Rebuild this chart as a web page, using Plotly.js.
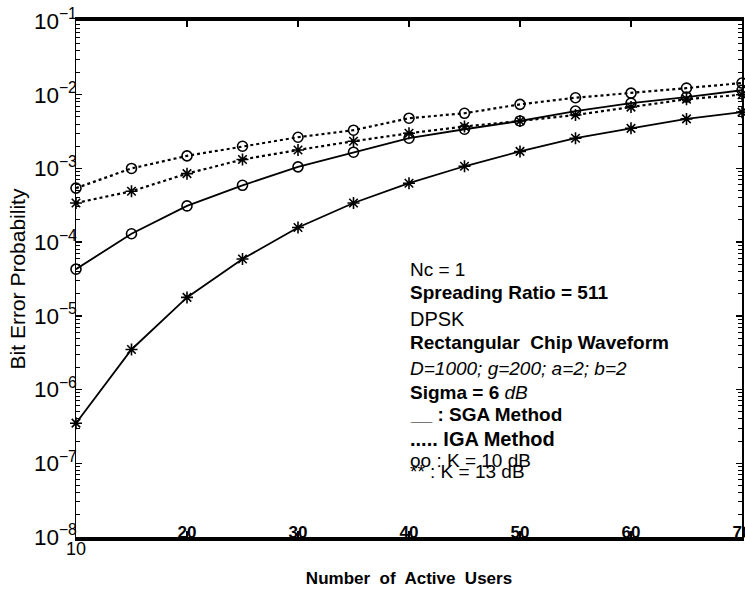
<!DOCTYPE html>
<html>
<head>
<meta charset="utf-8">
<script src="https://cdn.plot.ly/plotly-3.0.1.min.js"></script>
<style>
html,body{margin:0;padding:0;background:#fff;}
#chart{width:745px;height:592px;}
</style>
</head>
<body>
<div id="chart"></div>
<script>
// Number of active users
const users = [10, 15, 20, 25, 30, 35, 40, 45, 50, 55, 60, 65, 70];

// SGA method (solid)
const sgaK10 = [4.3e-5, 1.3e-4, 3.1e-4, 5.9e-4, 1.05e-3, 1.66e-3, 2.57e-3, 3.4e-3, 4.4e-3, 6.0e-3, 7.7e-3, 9.3e-3, 1.15e-2];
const sgaK13 = [3.5e-7, 3.5e-6, 1.78e-5, 5.9e-5, 1.58e-4, 3.4e-4, 6.3e-4, 1.07e-3, 1.7e-3, 2.57e-3, 3.5e-3, 4.7e-3, 5.8e-3];

// IGA method (dotted)
const igaK10 = [5.4e-4, 1.0e-3, 1.48e-3, 2.0e-3, 2.65e-3, 3.3e-3, 4.8e-3, 5.6e-3, 7.4e-3, 9.1e-3, 1.05e-2, 1.23e-2, 1.44e-2];
const igaK13 = [3.4e-4, 4.9e-4, 8.5e-4, 1.32e-3, 1.78e-3, 2.34e-3, 3.0e-3, 3.7e-3, 4.4e-3, 5.3e-3, 6.8e-3, 8.7e-3, 1.0e-2];

// Axis ticks
const xTickVals = [20, 30, 40, 50, 60, 70];
const xTickText = ["20", "30", "40", "50", "60", "70"];
const xFirstTick = "10";

const legendLines = [
  {text: "Nc = 1", y: 269, size: 19},
  {text: "<b>Spreading Ratio = 511</b>", y: 292, size: 19},
  {text: "DPSK", y: 319, size: 20},
  {text: "<b>Rectangular  Chip Waveform</b>", y: 342, size: 19},
  {text: "<i>D=1000; g=200; a=2; b=2</i>", y: 368, size: 19},
  {text: "<b>Sigma = 6</b> <i>dB</i>", y: 392, size: 19},
  {text: "<b>__ : SGA Method</b>", y: 414, size: 19},
  {text: "<b>..... IGA Method</b>", y: 439, size: 20},
  {text: "oo : K = 10 dB", y: 460, size: 19},
  {text: "** : K = 13 dB", y: 471, size: 19}
];

const font = "Liberation Sans, Arial, Helvetica, sans-serif";
const black = "#000";

function mk(y, dash, symbol, width) {
  return {
    x: users, y: y, type: "scatter", mode: "lines+markers",
    line: {color: black, width: width, dash: dash},
    marker: {symbol: symbol, size: 10, color: black, line: {color: black, width: 1.6}},
    showlegend: false, cliponaxis: false
  };
}

const traces = [
  mk(igaK10, "dot", "circle-open", 2.2),
  mk(igaK13, "dot", "asterisk-open", 2.2),
  mk(sgaK10, "solid", "circle-open", 1.8),
  mk(sgaK13, "solid", "asterisk-open", 1.8)
];

const H = 592, T = 21, B = 55;
function py(pix) { return 1 - (pix - T) / (H - T - B); }

const annotations = legendLines.map(l => ({
  text: l.text, xref: "paper", yref: "paper",
  x: (408 - 76) / (745 - 76 - 3), y: py(l.y),
  xanchor: "left", yanchor: "middle", showarrow: false,
  font: {family: font, size: l.size, color: black}
}));
annotations.push({
  text: xFirstTick, xref: "x", yref: "paper", x: 10, y: py(549),
  xanchor: "center", yanchor: "middle", showarrow: false,
  font: {family: font, size: 18, color: black}
});

const layout = {
  width: 745, height: 592,
  margin: {l: 76, r: 3, t: T, b: B},
  paper_bgcolor: "#fff", plot_bgcolor: "#fff",
  font: {family: font, color: black},
  showlegend: false,
  xaxis: {
    range: [10, 70], tickvals: xTickVals, ticktext: xTickText,
    ticks: "inside", ticklen: 6, tickcolor: black, tickwidth: 1.5,
    showline: true, linecolor: black, linewidth: 4, mirror: "ticks",
    showgrid: false, zeroline: false,
    ticklabelstandoff: -23, ticklabeloverflow: "allow",
    tickfont: {family: font, size: 17, color: black, weight: "bold"},
    title: {text: "<b>Number  of  Active  Users</b>", font: {family: font, size: 17, color: black}, standoff: 32}
  },
  yaxis: {
    type: "log", range: [-8, -1], dtick: 1,
    exponentformat: "power",
    ticks: "inside", ticklen: 6, tickcolor: black, tickwidth: 1.5,
    minor: {dtick: "D1", ticks: "inside", ticklen: 4, tickcolor: black, tickwidth: 1, showgrid: false},
    showline: true, linecolor: black, linewidth: 1.5, mirror: "ticks",
    showgrid: false, zeroline: false,
    ticklabelstandoff: -6,
    tickfont: {family: font, size: 18, color: black},
    title: {text: "Bit Error Probability", font: {family: font, size: 21, color: black}, standoff: 2}
  },
  annotations: annotations
};

Plotly.newPlot("chart", traces, layout, {displayModeBar: false, staticPlot: true});
</script>
</body>
</html>
